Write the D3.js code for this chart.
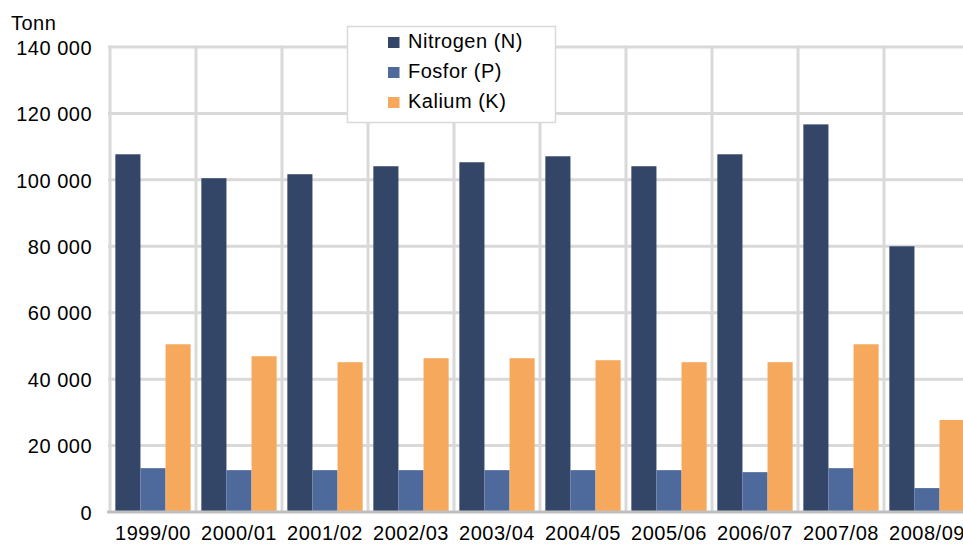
<!DOCTYPE html>
<html>
<head>
<meta charset="utf-8">
<script src="https://cdn.jsdelivr.net/npm/d3@7"></script>
<style>
  html, body { margin: 0; padding: 0; background: #fff; overflow: hidden; }
  svg { display: block; font-family: "Liberation Sans", Arial, sans-serif; }
  text { fill: #000; font-size: 20px; letter-spacing: 0.5px; }
</style>
</head>
<body>
<svg id="chart" width="963" height="544"></svg>
<script>
// Fertiliser sales per season, tonnes
const seasons = ["1999/00", "2000/01", "2001/02", "2002/03", "2003/04",
                 "2004/05", "2005/06", "2006/07", "2007/08", "2008/09"];
const seriesNames = ["Nitrogen (N)", "Fosfor (P)", "Kalium (K)"];
const nitrogen = [107700, 100500, 101700, 104100, 105300, 107100, 104100, 107700, 116700, 80000];
const fosfor   = [13200, 12600, 12600, 12600, 12600, 12600, 12600, 12000, 13200, 7200];
const kalium   = [50500, 46900, 45100, 46300, 46300, 45700, 45100, 45100, 50500, 27700];
const yTicks   = [0, 20000, 40000, 60000, 80000, 100000, 120000, 140000];
const colors   = ["#344667", "#4e6a9c", "#f6a85c"];

const values = [nitrogen, fosfor, kalium];

const svg = d3.select("#chart");
const plot = { left: 110, right: 970, top: 47, bottom: 512 };

const x0 = d3.scaleBand().domain(seasons).range([plot.left, plot.right]).paddingInner(0).paddingOuter(0);
const x1 = d3.scaleBand().domain(seriesNames).range([0, x0.bandwidth()]).paddingInner(0).paddingOuter(0.213);
const y = d3.scaleLinear().domain([0, 140000]).range([plot.bottom, plot.top]);
const color = d3.scaleOrdinal().domain(seriesNames).range(colors);

const fmt = v => d3.format(",")(v).replace(/,/g, " ");

// Horizontal gridlines
svg.append("g")
  .selectAll("line")
  .data(yTicks.filter(t => t > 0))
  .join("line")
  .attr("x1", plot.left - 2).attr("x2", 963)
  .attr("y1", d => y(d)).attr("y2", d => y(d))
  .attr("stroke", "#d9d9d9").attr("stroke-width", 3);

// Vertical gridlines at category boundaries
svg.append("g")
  .selectAll("line")
  .data(seasons)
  .join("line")
  .attr("x1", d => x0(d)).attr("x2", d => x0(d))
  .attr("y1", plot.top - 1.5).attr("y2", plot.bottom)
  .attr("stroke", "#d9d9d9").attr("stroke-width", 3);

// Bars
const groups = svg.append("g")
  .selectAll("g")
  .data(seasons)
  .join("g")
  .attr("transform", d => `translate(${x0(d)},0)`);

groups.selectAll("rect")
  .data((d, i) => seriesNames.map((s, k) => ({ series: s, value: values[k][i] })))
  .join("rect")
  .attr("x", d => x1(d.series))
  .attr("width", x1.bandwidth())
  .attr("y", d => y(d.value))
  .attr("height", d => y(0) - y(d.value) - 1)
  .attr("fill", d => color(d.series));

// Baseline
svg.append("line")
  .attr("x1", plot.left - 3).attr("x2", 963)
  .attr("y1", y(0)).attr("y2", y(0))
  .attr("stroke", "#bfbfbf").attr("stroke-width", 3);

// Y axis labels
const yAxis = d3.axisLeft(y).tickValues(yTicks).tickFormat(fmt).tickSize(0).tickPadding(0);
const gy = svg.append("g").attr("transform", "translate(92,0)").call(yAxis);
gy.select(".domain").remove();
gy.selectAll("text").attr("font-size", 20).attr("font-family", null).attr("dy", "0.36em").attr("fill", "#000");

// X axis labels
const xAxis = d3.axisBottom(x0).tickSize(0).tickPadding(0);
const gx = svg.append("g").attr("transform", "translate(0,525)").call(xAxis);
gx.select(".domain").remove();
gx.selectAll("text").attr("font-size", 20).attr("font-family", null).attr("dy", "0.75em").attr("y", 0).attr("fill", "#000");

// Unit label
svg.append("text").attr("x", 11).attr("y", 30).text("Tonn");

// Legend
const legend = svg.append("g");
legend.append("rect")
  .attr("x", 347.5).attr("y", 26.5).attr("width", 208).attr("height", 96)
  .attr("fill", "#fff").attr("stroke", "#d9d9d9").attr("stroke-width", 1.5);
const items = legend.selectAll("g.item")
  .data(seriesNames)
  .join("g").attr("class", "item")
  .attr("transform", (d, i) => `translate(388,${47.5 + i * 30})`);
items.append("rect")
  .attr("x", 0).attr("y", -10.5).attr("width", 11.5).attr("height", 11)
  .attr("fill", d => color(d));
items.append("text").attr("x", 20).attr("y", 0).text(d => d);
</script>
</body>
</html>
